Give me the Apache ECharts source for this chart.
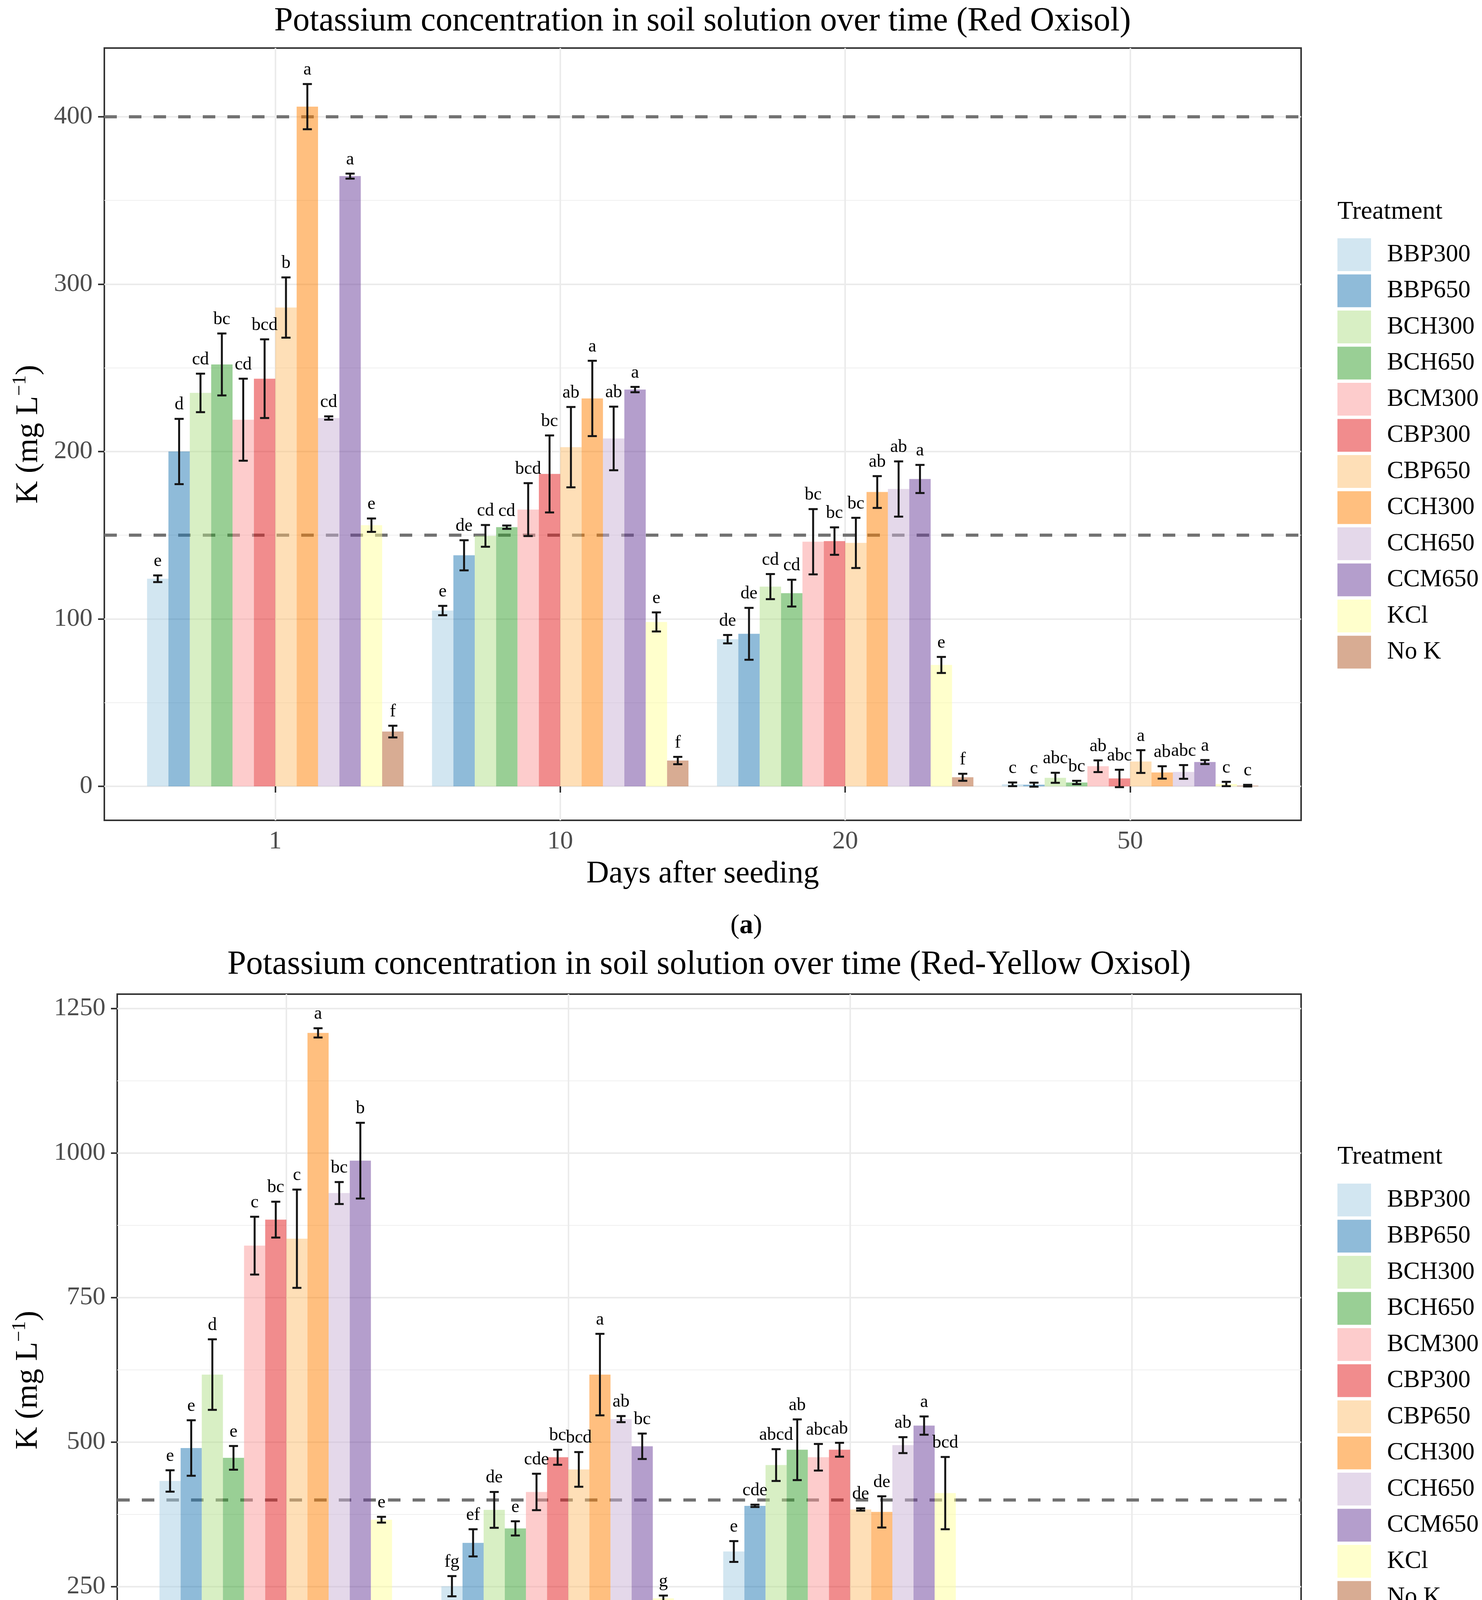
<!DOCTYPE html>
<html>
<head>
<meta charset="utf-8">
<title>Potassium concentration in soil solution over time</title>
<script src="https://cdn.jsdelivr.net/npm/echarts@6.0.0/dist/echarts.min.js"></script>
<style>
    html, body { margin: 0; padding: 0; background: #fff; }
    #main { width: 3793px; height: 4840px; }
</style>
</head>
<body>
<div id="main"></div>
<script type="text/javascript">
    var treatments = ['BBP300', 'BBP650', 'BCH300', 'BCH650', 'BCM300', 'CBP300',
        'CBP650', 'CCH300', 'CCH650', 'CCM650', 'KCl', 'No K'];
    var days = ['1', '10', '20', '50'];
    // Paired palette at alpha 0.5
    var colors = ['rgba(166,206,227,0.5)', 'rgba(31,120,180,0.5)', 'rgba(178,223,138,0.5)',
        'rgba(51,160,44,0.5)', 'rgba(251,154,153,0.5)', 'rgba(227,26,28,0.5)',
        'rgba(253,191,111,0.5)', 'rgba(255,127,0,0.5)', 'rgba(202,178,214,0.5)',
        'rgba(106,61,154,0.5)', 'rgba(255,255,153,0.5)', 'rgba(177,89,40,0.5)'];

    // (a) Red Oxisol - one row per treatment, columns = day 1, 10, 20, 50
    var redMean = [
        [124, 105, 87.9, 1.2],
        [200, 138, 91.1, 1.0],
        [235, 149.6, 119.3, 5.1],
        [252, 154.8, 115.4, 2.3],
        [219, 165.3, 146.1, 12.0],
        [243.5, 186.6, 146.5, 4.7],
        [286, 202.6, 145.4, 14.8],
        [406, 231.7, 175.8, 8.3],
        [220, 207.8, 177.6, 8.6],
        [364.5, 237, 183.6, 14.5],
        [156, 98.2, 72.5, 1.4],
        [32.7, 15.4, 5.4, 0.4]
    ];
    var redErr = [
        [2, 2.8, 2.5, 1.1],
        [19.5, 9, 15.5, 1.2],
        [11.5, 6.5, 7.5, 3.0],
        [18.5, 1, 8, 1.0],
        [24.5, 15.8, 19.5, 3.5],
        [23.5, 23, 8.2, 5.2],
        [18, 24, 15, 6.8],
        [13.5, 22.5, 9.5, 3.7],
        [1, 19, 16.5, 4.1],
        [1.5, 1.6, 8.4, 1.2],
        [4, 5.7, 4.8, 1.3],
        [3.5, 2.2, 2.1, 0.5]
    ];
    var redLetters = [
        ['e', 'e', 'de', 'c'],
        ['d', 'de', 'de', 'c'],
        ['cd', 'cd', 'cd', 'abc'],
        ['bc', 'cd', 'cd', 'bc'],
        ['cd', 'bcd', 'bc', 'ab'],
        ['bcd', 'bc', 'bc', 'abc'],
        ['b', 'ab', 'bc', 'a'],
        ['a', 'a', 'ab', 'ab'],
        ['cd', 'ab', 'ab', 'abc'],
        ['a', 'a', 'a', 'a'],
        ['e', 'e', 'e', 'c'],
        ['f', 'f', 'f', 'c']
    ];

    // (b) Red-Yellow Oxisol
    var yellowMean = [
        [433, 251, 311, 1.1],
        [490, 326, 390, 0.3],
        [617, 383, 460.5, 0.7],
        [473, 351, 487, 0.3],
        [840, 414, 474, 83.3],
        [885, 474, 487, 20.5],
        [852, 453, 383.7, 11.5],
        [1208, 617, 379.5, 1.5],
        [931, 540, 495, 103.3],
        [987, 493, 528.8, 20.8],
        [366, 230, 412, 2.0],
        [98, 46, 41, 0.2]
    ];
    var yellowErr = [
        [18.5, 17.5, 18, 0.8],
        [48, 23.5, 2, 0.6],
        [61, 31, 27.5, 0.6],
        [20.5, 12.3, 52.5, 0.6],
        [50, 31.5, 23, 6.7],
        [31, 13, 12, 7.6],
        [85, 30, 2, 8.6],
        [8, 70.5, 27, 2.5],
        [19, 5.3, 13.8, 1.0],
        [65.5, 22, 15.8, 5.5],
        [5, 4.8, 62.5, 1.0],
        [4, 6.3, 11.6, 0.5]
    ];
    var yellowLetters = [
        ['e', 'fg', 'e', 'd'],
        ['e', 'ef', 'cde', 'd'],
        ['d', 'de', 'abcd', 'd'],
        ['e', 'e', 'ab', 'd'],
        ['c', 'cde', 'abc', 'b'],
        ['bc', 'bc', 'ab', 'c'],
        ['c', 'bcd', 'de', 'cd'],
        ['a', 'a', 'de', 'd'],
        ['bc', 'ab', 'ab', 'a'],
        ['b', 'bc', 'a', 'c'],
        ['e', 'g', 'bcd', 'd'],
        ['f', 'h', 'f', 'd']
    ];

    var redTicks = [0, 100, 200, 300, 400];
    var redMinor = [50, 150, 250, 350];
    var yellowTicks = [0, 250, 500, 750, 1000, 1250];
    var yellowMinor = [125, 375, 625, 875, 1125];
    var thresholds = [150, 400];

    var serif = "'Liberation Serif', 'Times New Roman', serif";
    var nBars = treatments.length;
    var groupWidth = 0.9;
    var barUnit = groupWidth / nBars;

    var panels = [
        {
            title: 'Potassium concentration in soil solution over time (Red Oxisol)',
            tag: 'a', mean: redMean, err: redErr, letters: redLetters,
            ticks: redTicks, minor: redMinor, min: -20.3, max: 441,
            grid: {left: 267, top: 123, width: 3063, height: 1977},
            titleX: 1798, titleY: 55, tagY: 2371, nameGap: 146, legendTop: 610, legendTitleY: 543
        },
        {
            title: 'Potassium concentration in soil solution over time (Red-Yellow Oxisol)',
            tag: 'b', mean: yellowMean, err: yellowErr, letters: yellowLetters,
            ticks: yellowTicks, minor: yellowMinor, min: -60, max: 1275,
            grid: {left: 300, top: 2545, width: 3030, height: 1976},
            titleX: 1815, titleY: 2470, tagY: 4785, nameGap: 180, legendTop: 3030, legendTitleY: 2962
        }
    ];

    function errorBars(letterList) {
        return function (params, api) {
            var x = api.value(0) - groupWidth / 2 + (api.value(1) + 0.5) * barUnit;
            var hi = api.coord([x, api.value(3)]);
            var lo = api.coord([x, api.value(2)]);
            var cap = api.size([0.016, 0])[0];
            var st = {stroke: '#141414', lineWidth: 5};
            return {
                type: 'group',
                children: [
                    {type: 'line', shape: {x1: hi[0], y1: hi[1], x2: lo[0], y2: lo[1]}, style: st},
                    {type: 'line', shape: {x1: hi[0] - cap, y1: hi[1], x2: hi[0] + cap, y2: hi[1]}, style: st},
                    {type: 'line', shape: {x1: lo[0] - cap, y1: lo[1], x2: lo[0] + cap, y2: lo[1]}, style: st},
                    {
                        type: 'text', x: hi[0], y: hi[1] - 13,
                        style: {
                            text: letterList[params.dataIndex], align: 'center', verticalAlign: 'bottom',
                            fontSize: 46, fontFamily: serif, fill: '#000'
                        }
                    }
                ]
            };
        };
    }

    var option = {
        backgroundColor: '#fff',
        animation: false,
        grid: [], xAxis: [], yAxis: [], series: [], legend: [], graphic: []
    };

    panels.forEach(function (p, pi) {
        option.grid.push({
            left: p.grid.left, top: p.grid.top, width: p.grid.width, height: p.grid.height,
            show: true, borderColor: '#333333', borderWidth: 4, backgroundColor: 'transparent'
        });
        option.xAxis.push({
            gridIndex: pi, type: 'value', min: 0.4, max: 4.6,
            axisLine: {show: false},
            axisTick: {customValues: [1, 2, 3, 4], length: 16, lineStyle: {color: '#333', width: 4}},
            axisLabel: {
                customValues: [1, 2, 3, 4], margin: 22, fontSize: 66, color: '#4d4d4d', fontFamily: serif,
                formatter: function (v) { return days[Math.round(v) - 1]; }
            },
            splitLine: {show: true, lineStyle: {color: '#ebebeb', width: 4}},
            name: 'Days after seeding', nameLocation: 'middle', nameGap: 98,
            nameTextStyle: {fontSize: 80, color: '#000', fontFamily: serif}
        });
        option.yAxis.push({
            gridIndex: pi, type: 'value', min: p.min, max: p.max,
            axisLine: {show: false},
            axisTick: {customValues: p.ticks, length: 16, lineStyle: {color: '#333', width: 4}},
            axisLabel: {
                customValues: p.ticks, margin: 30, fontSize: 66, color: '#4d4d4d', fontFamily: serif,
                formatter: function (v) { return String(v); }
            },
            splitLine: {show: true, lineStyle: {color: '#ebebeb', width: 4}},
            name: '{a|K (mg L}{s|\u22121}{a|)}', nameLocation: 'middle', nameRotate: 90, nameGap: p.nameGap,
            nameTextStyle: {
                rich: {
                    a: {fontSize: 80, fontFamily: serif, color: '#000', lineHeight: 94},
                    s: {fontSize: 50, fontFamily: serif, color: '#000', lineHeight: 94, verticalAlign: 'top'}
                }
            }
        });
        // minor gridlines
        option.yAxis.push({
            gridIndex: pi, type: 'value', min: p.min, max: p.max, position: 'left',
            axisLine: {show: false}, axisLabel: {show: false},
            axisTick: {show: false, customValues: p.minor},
            splitLine: {show: true, lineStyle: {color: '#efefef', width: 2}}
        });

        var letterList = [];
        var errData = [];
        treatments.forEach(function (t, ti) {
            var s = {
                name: t, type: 'bar', xAxisIndex: pi, yAxisIndex: pi * 2,
                barGap: '0%', barCategoryGap: '10%', z: 2,
                itemStyle: {color: colors[ti]},
                data: days.map(function (d, k) { return [k + 1, p.mean[ti][k]]; })
            };
            if (ti === 0) {
                s.markLine = {
                    silent: true, symbol: 'none', z: 1, label: {show: false},
                    lineStyle: {type: [32, 31], color: '#727272', width: 8},
                    data: thresholds.map(function (v) { return {yAxis: v}; })
                };
            }
            option.series.push(s);
            days.forEach(function (d, k) {
                errData.push([k + 1, ti, p.mean[ti][k] - p.err[ti][k], p.mean[ti][k] + p.err[ti][k]]);
                letterList.push(p.letters[ti][k]);
            });
        });
        option.series.push({
            type: 'custom', xAxisIndex: pi, yAxisIndex: pi * 2, z: 4, clip: false,
            encode: {x: 0, y: 3},
            renderItem: errorBars(letterList),
            data: errData
        });

        option.legend.push({
            data: treatments, orient: 'vertical', left: 3423, top: p.legendTop,
            itemWidth: 86, itemHeight: 84, itemGap: 8.5, padding: 0, icon: 'rect',
            selectedMode: false,
            textStyle: {fontSize: 63, color: '#000', fontFamily: serif, padding: [0, 0, 0, 36]}
        });

        option.graphic.push({
            type: 'text', x: p.titleX, y: p.titleY,
            style: {text: p.title, align: 'center', verticalAlign: 'middle', fontSize: 86, fontFamily: serif, fill: '#000'}
        });
        option.graphic.push({
            type: 'text', x: 3423, y: p.legendTitleY,
            style: {text: 'Treatment', align: 'left', verticalAlign: 'middle', fontSize: 66, fontFamily: serif, fill: '#000'}
        });
        option.graphic.push({
            type: 'text', x: 1910, y: p.tagY,
            style: {
                text: '{n|(}{b|' + p.tag + '}{n|)}', align: 'center', verticalAlign: 'middle',
                rich: {
                    n: {fontSize: 70, fontFamily: serif, fill: '#000'},
                    b: {fontSize: 70, fontFamily: serif, fontWeight: 'bold', fill: '#000'}
                }
            }
        });
    });

    var myChart = echarts.init(document.getElementById('main'));
    myChart.setOption(option);
</script>
</body>
</html>
